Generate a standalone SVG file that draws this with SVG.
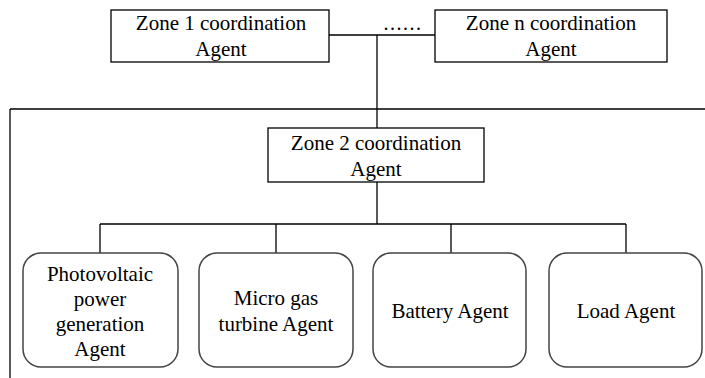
<svg xmlns="http://www.w3.org/2000/svg" width="705" height="378" viewBox="0 0 705 378">
<style>
.box{fill:#fff;stroke:#000;stroke-width:1.3}
.rbox{fill:#fff;stroke:#444;stroke-width:1.5}
.ln{fill:none;stroke:#000;stroke-width:1.3}
text{font-family:"Liberation Serif","Times New Roman",serif;font-size:21px;fill:#000;text-anchor:middle}
</style>
<rect width="705" height="378" fill="#fff"/>
<g id="connectors">
<path class="ln" d="M329 35H435"/>
<path class="ln" d="M377 35V128"/>
<path class="ln" d="M10 109H705M10 109V378"/>
<path class="ln" d="M377 182V224M100 224H626M100 224V253M276 224V253M451 224V253M626 224V253"/>
<text x="403" y="30" style="font-size:20px;letter-spacing:1.5px">......</text>
</g>
<g id="zone1">
<rect class="box" x="111" y="10" width="218" height="52"/>
<text x="221" y="30">Zone 1 coordination</text>
<text x="221" y="56">Agent</text>
</g>
<g id="zonen">
<rect class="box" x="435" y="10" width="232" height="52"/>
<text x="551" y="30">Zone n coordination</text>
<text x="551" y="56">Agent</text>
</g>
<g id="zone2">
<rect class="box" x="268" y="128" width="216" height="54"/>
<text x="376" y="150">Zone 2 coordination</text>
<text x="376" y="176">Agent</text>
</g>
<g id="pv">
<rect class="rbox" x="23" y="253" width="155" height="114" rx="18"/>
<text x="100" y="281">Photovoltaic</text>
<text x="100" y="306">power</text>
<text x="100" y="331">generation</text>
<text x="100" y="356">Agent</text>
</g>
<g id="mgt">
<rect class="rbox" x="199" y="253" width="154" height="114" rx="18"/>
<text x="276" y="305">Micro gas</text>
<text x="276" y="331">turbine Agent</text>
</g>
<g id="battery">
<rect class="rbox" x="373" y="253" width="153" height="114" rx="18"/>
<text x="450" y="318">Battery Agent</text>
</g>
<g id="load">
<rect class="rbox" x="549" y="253" width="153" height="114" rx="18"/>
<text x="626" y="318">Load Agent</text>
</g>
</svg>
